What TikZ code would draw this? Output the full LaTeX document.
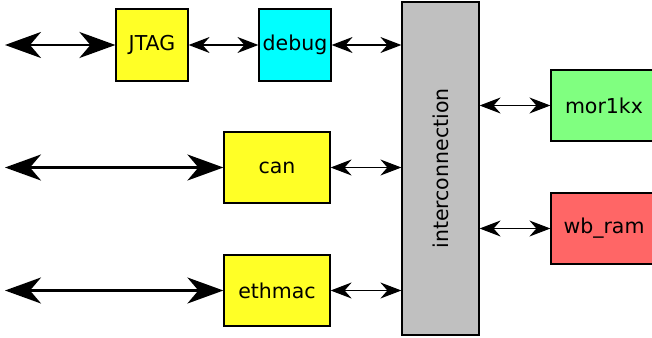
\documentclass[tikz,border=0pt]{standalone}
\usepackage{fontspec}
\setmainfont{DejaVu Sans}
\usepackage{graphicx}
\usetikzlibrary{arrows.meta}

\definecolor{boxyellow}{RGB}{255,255,38}
\definecolor{boxcyan}{RGB}{0,255,255}
\definecolor{busgrey}{RGB}{192,192,192}
\definecolor{boxgreen}{RGB}{128,255,128}
\definecolor{boxred}{RGB}{255,102,102}

\begin{document}
\begin{tikzpicture}[x=1pt,y=-1pt,
	block/.style={shape=rectangle,draw=black,line width=1.2pt,inner sep=0pt,font=\fontsize{20.5}{25}\selectfont},
	biglink/.style={line width=2.4pt,{Stealth[length=36pt,width=26pt,inset=11pt]}-{Stealth[length=36pt,width=26pt,inset=11pt]}},
	link/.style={line width=1.3pt,{Stealth[length=21pt,width=16pt,inset=7pt]}-{Stealth[length=21pt,width=16pt,inset=7pt]}}]
	
	\useasboundingbox (0, 0) rectangle (652, 337);
	
	\node[block,fill=boxyellow,minimum width=72pt,minimum height=72pt] (jtag) at (152, 45) {JTAG};
	\node[block,fill=boxcyan,minimum width=72pt,minimum height=72pt] (debug) at (295, 45) {debug};
	\node[block,fill=boxyellow,minimum width=106pt,minimum height=71pt] (can) at (277, 167.5) {can};
	\node[block,fill=boxyellow,minimum width=106pt,minimum height=71pt] (ethmac) at (277, 290.5) {ethmac};
	\node[block,fill=busgrey,minimum width=77pt,minimum height=333pt] (interco) at (440.5, 168.5) {\rotatebox{90}{interconnection}};
	\node[block,fill=boxgreen,minimum width=106pt,minimum height=71pt] (mor) at (604, 105.5) {mor1kx};
	\node[block,fill=boxred,minimum width=106pt,minimum height=71pt] (wbram) at (604, 228.5) {wb\_ram};
	
	\coordinate (jtagin) at (5, 45);
	\coordinate (canin) at (5, 167.5);
	\coordinate (ethin) at (5, 290.5);
	
	\path[biglink] (jtagin) edge (jtag);
	\path[biglink] (canin) edge (can);
	\path[biglink] (ethin) edge (ethmac);
	
	\path[link] (jtag) edge (debug);
	\path[link] (debug) edge (debug -| interco.west);
	\path[link] (can) edge (can -| interco.west);
	\path[link] (ethmac) edge (ethmac -| interco.west);
	\path[link] (mor -| interco.east) edge (mor);
	\path[link] (wbram -| interco.east) edge (wbram);
	
\end{tikzpicture}
\end{document}
